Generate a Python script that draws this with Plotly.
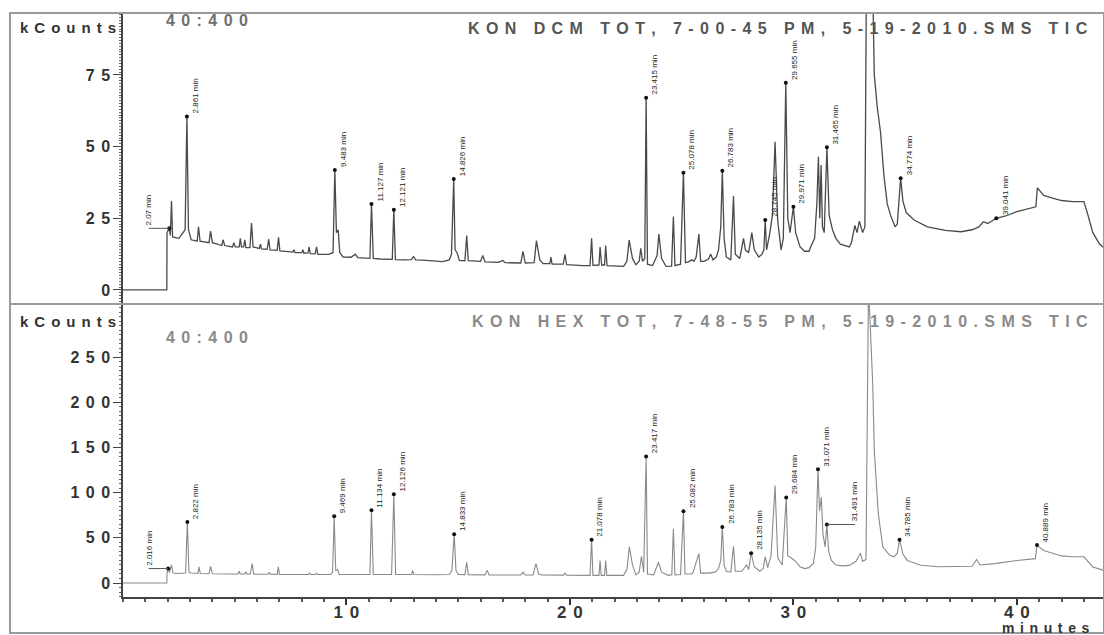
import plotly.graph_objects as go

# ---------------- DATA ----------------
# Top panel: KON DCM TOT (time in minutes, intensity in kCounts)
dcm_time = [
    0.0, 1.96, 1.97, 2.07, 2.12, 2.17, 2.22, 2.5, 2.78, 2.86,
    2.93, 3.05, 3.32, 3.38, 3.45, 3.85, 3.92, 4.0, 4.42, 4.48,
    4.55, 4.9, 4.96, 5.02, 5.2, 5.25, 5.3, 5.4, 5.45, 5.5,
    5.68, 5.75, 5.82, 6.1, 6.15, 6.2, 6.45, 6.52, 6.58, 6.9,
    6.96, 7.02, 7.4, 7.6, 7.65, 7.7, 8.0, 8.05, 8.1, 8.28,
    8.33, 8.38, 8.6, 8.66, 8.72, 9.0, 9.2, 9.4, 9.48, 9.55,
    9.63, 9.7, 9.85, 10.2, 10.4, 10.5, 10.8, 11.05, 11.12, 11.2,
    11.5, 11.9, 12.05, 12.12, 12.19, 12.6, 12.9, 13.0, 13.1, 13.4,
    13.9, 14.3, 14.6, 14.7, 14.8, 14.86, 14.95, 15.05, 15.3, 15.38,
    15.45, 16.0, 16.1, 16.2, 16.8, 17.0, 17.1, 17.8, 17.9, 18.0,
    18.4, 18.5, 18.65, 18.8, 19.1, 19.15, 19.2, 19.7, 19.78, 19.85,
    20.6, 20.9, 20.97, 21.03, 21.3, 21.35, 21.42, 21.55, 21.6, 21.66,
    22.4, 22.55, 22.65, 22.8, 22.95, 23.1, 23.17, 23.25, 23.35, 23.41,
    23.47, 23.7, 23.9, 23.98, 24.1, 24.3, 24.55, 24.63, 24.7, 24.95,
    25.08, 25.17, 25.3, 25.45, 25.55, 25.65, 25.77, 25.85, 26.0, 26.2,
    26.3, 26.4, 26.55, 26.65, 26.75, 26.82, 26.9, 27.0, 27.2, 27.32,
    27.4, 27.6, 27.77, 27.85, 28.0, 28.14, 28.25, 28.45, 28.6, 28.68,
    28.74, 28.8, 28.95, 29.06, 29.18, 29.3, 29.45, 29.55, 29.66, 29.75,
    29.85, 30.0, 30.1, 30.3, 30.5, 30.7, 30.8, 30.95, 31.05, 31.12,
    31.18, 31.24, 31.3, 31.38, 31.5, 31.6, 31.75, 31.9, 32.1, 32.3,
    32.5, 32.6, 32.75, 32.85, 32.95, 33.1, 33.2, 33.34, 33.52, 33.62,
    33.75, 33.9, 34.05, 34.2, 34.35, 34.55, 34.65, 34.72, 34.8, 34.9,
    35.05, 35.4, 36.0, 36.8, 37.5, 38.0, 38.3, 38.5, 38.7, 39.08,
    39.5, 40.0, 40.5, 40.85, 40.92, 41.2, 41.6, 42.0, 42.5, 43.0,
    43.15, 43.4, 43.7, 44.0,
]
dcm_kcounts = [
    0, 0, 20, 21.5, 19, 31, 18.5, 18, 21, 60.5,
    21, 17.5, 17, 22, 17, 16.5, 20.5, 16.5, 15.5, 17.5,
    15.5, 15, 16.5, 15, 15, 18, 15, 15, 17.5, 14.8,
    14.8, 23.3, 15, 14.5, 16, 14.3, 14.2, 17.7, 14, 13.8,
    18.4, 13.6, 13.4, 13.2, 14, 13, 13, 14, 12.8, 12.9,
    15, 12.7, 12.6, 15, 12.4, 12.3, 12.4, 13, 41.8, 20,
    21, 13, 11.5, 11.4, 12.5, 11.3, 11, 11, 30, 11,
    10.8, 10.7, 10.7, 28, 10.6, 10.5, 10.6, 11.6, 10.5, 10.4,
    10, 9.9, 10.5, 12.5, 38.7, 14, 13, 10.3, 10.2, 19,
    10.2, 10, 12, 9.8, 9.6, 10.3, 9.5, 9.4, 13.5, 9.4,
    9.5, 17.2, 10.5, 9.2, 9.2, 11.5, 9, 9, 12.4, 8.8,
    8.5, 8.5, 18, 8.6, 8.7, 15, 8.7, 8.7, 15.5, 8.5,
    8.2, 10, 17.4, 11, 8.8, 10, 14.5, 10, 11, 67,
    9, 8.5, 12, 19.5, 11, 8.2, 8.3, 25.6, 8.5, 9,
    40.9, 9.5, 9.8, 10.5, 10, 11.5, 19.5, 10, 10, 10.8,
    12.5, 10.5, 11.5, 14, 22, 41.6, 18, 11.5, 10.5, 32.8,
    12.5, 11, 18, 14, 13, 20, 14, 11.5, 12.5, 14,
    24.4, 14, 20, 26, 51.7, 24, 14, 18, 72.3, 25,
    20, 29, 20, 15, 13.5, 13.5, 15.5, 18, 30, 46.5,
    25, 43.6, 22, 20, 49.8, 26, 21, 18, 16, 15.5,
    15, 16.5, 22.5, 20, 24, 20, 22, 200, 110, 75,
    64, 55, 40, 30, 26, 22, 23, 32, 39, 31,
    27, 24.4, 22, 20.8, 20.3, 21, 22, 23.8, 23.2, 25,
    25.8, 27.3, 28.2, 29, 35.6, 33, 32, 31.2, 30.8, 30.8,
    27, 20, 16, 14,
]

# Bottom panel: KON HEX TOT
hex_time = [
    0.0, 1.96, 1.97, 2.02, 2.08, 2.17, 2.24, 2.5, 2.8, 2.88,
    2.95, 3.05, 3.35, 3.4, 3.46, 3.85, 3.92, 4.0, 4.8, 5.15,
    5.2, 5.25, 5.45, 5.5, 5.55, 5.7, 5.78, 5.85, 6.5, 6.55,
    6.6, 6.9, 6.95, 7.0, 7.6, 8.3, 8.35, 8.4, 8.6, 8.66,
    8.72, 9.3, 9.38, 9.45, 9.52, 9.6, 9.68, 10.5, 11.05, 11.12,
    11.2, 12.02, 12.12, 12.2, 12.6, 12.92, 12.96, 13.02, 14.0, 14.6,
    14.72, 14.82, 14.9, 15.0, 15.3, 15.38, 15.45, 16.2, 16.3, 16.38,
    17.8, 17.9, 18.0, 18.35, 18.48, 18.6, 18.75, 19.7, 19.78, 19.85,
    20.9, 20.97, 21.03, 21.3, 21.35, 21.4, 21.55, 21.6, 21.65, 22.4,
    22.55, 22.66, 22.8, 22.95, 23.1, 23.2, 23.3, 23.41, 23.47, 23.75,
    23.96, 24.1, 24.4, 24.56, 24.63, 24.7, 24.95, 25.08, 25.15, 25.4,
    25.5, 25.77, 25.85, 26.2, 26.5, 26.65, 26.75, 26.82, 26.9, 27.0,
    27.2, 27.32, 27.4, 27.7, 27.9, 28.0, 28.11, 28.25, 28.5, 28.65,
    28.74, 28.85, 29.0, 29.18, 29.3, 29.5, 29.68, 29.75, 29.9, 30.1,
    30.3, 30.5, 30.7, 30.9, 31.0, 31.1, 31.17, 31.25, 31.32, 31.42,
    31.5, 31.58, 31.7, 31.9, 32.2, 32.5, 32.8, 33.0, 33.1, 33.25,
    33.36, 33.55, 33.62, 33.8, 34.0, 34.3, 34.5, 34.65, 34.75, 34.9,
    35.1, 35.7, 36.5, 37.5, 38.0, 38.2, 38.35, 39.0, 40.0, 40.83,
    40.9, 41.2, 41.6, 42.0, 42.5, 43.0, 43.4, 43.9,
]
hex_kcounts = [
    0, 0, 11, 16, 11.5, 20, 11, 10.5, 11, 67.7,
    12, 11, 10.5, 17.8, 10.5, 10.3, 18.5, 10.2, 10, 10,
    13, 10, 10, 12.5, 10, 10, 21.5, 9.8, 9.7, 12,
    9.7, 9.6, 17.8, 9.6, 9.5, 9.6, 11, 9.5, 9.5, 10.5,
    9.5, 9.5, 12, 74, 14, 15, 9.5, 9.5, 9.5, 80.7,
    9.4, 9.5, 98.4, 9.5, 9.4, 9.4, 14, 9.4, 9.2, 9.5,
    14, 54, 14, 9.5, 9.3, 23, 9.3, 9, 14, 9,
    8.8, 12, 8.8, 9, 21.5, 10, 8.8, 8.7, 11, 8.6,
    8.5, 48, 8.5, 8.5, 25, 8.5, 8.5, 25, 8.5, 8.5,
    15, 40, 20, 9, 12, 29.6, 12, 140, 10, 9,
    23, 12, 8.5, 9, 60, 9, 9.5, 79.6, 10, 10,
    11, 32.6, 11, 11, 12, 16, 25, 62, 20, 13,
    12, 40.7, 13, 13, 20, 15, 33, 18, 13, 16,
    29, 17, 30, 108, 28, 20, 94.8, 30, 28, 24,
    18, 16, 17, 22, 40, 126, 80, 95, 55, 40,
    64.8, 35, 25, 20, 19, 19.5, 24, 33, 24, 26,
    330, 221, 147, 77, 40, 31, 29, 33, 48, 32,
    25, 19.6, 18, 17.8, 18.5, 26, 20, 21.5, 25, 27,
    42, 36, 32.6, 30, 29, 29, 17.8, 14,
]

# Peak labels (apex retention time, apex height, text, where the text sits)
dcm_label_rt = [2.07, 2.86, 9.48, 11.12, 12.12, 14.8, 23.41, 25.08, 26.82,
                28.74, 29.66, 30.0, 31.5, 34.8, 39.08]
dcm_label_kc = [21.5, 60.5, 41.8, 30, 28, 38.7, 67, 40.9, 41.6,
                24.4, 72.3, 29, 49.8, 39, 25]
dcm_label_text = ["2.07 min", "2.861 min", "9.483 min", "11.127 min", "12.121 min",
                  "14.826 min", "23.415 min", "25.078 min", "26.783 min", "28.745 min",
                  "29.655 min", "29.971 min", "31.465 min", "34.774 min", "39.041 min"]
dcm_label_text_rt = [1.15, None, None, None, None, None, None, None, None,
                     None, None, None, None, None, None]

hex_label_rt = [2.02, 2.88, 9.45, 11.12, 12.12, 14.82, 20.97, 23.41, 25.08,
                26.82, 28.11, 29.68, 31.1, 31.5, 34.75, 40.9]
hex_label_kc = [16, 67.7, 74, 80.7, 98.4, 54, 48, 140, 79.6,
                62, 33, 94.8, 126, 64.8, 48, 42]
hex_label_text = ["2.016 min", "2.822 min", "9.469 min", "11.134 min", "12.126 min",
                  "14.833 min", "21.078 min", "23.417 min", "25.082 min", "26.783 min",
                  "28.135 min", "29.684 min", "31.071 min", "31.491 min", "34.785 min",
                  "40.889 min"]
hex_label_text_rt = [1.15, None, None, None, None, None, None, None, None,
                     None, None, None, None, 32.75, None, None]

dcm_ticks = [0, 25, 50, 75]
hex_ticks = [0, 50, 100, 150, 200, 250]
time_ticks = [10, 20, 30, 40]

dcm_title = "KON DCM TOT, 7-00-45 PM, 5-19-2010.SMS TIC"
hex_title = "KON HEX TOT, 7-48-55 PM, 5-19-2010.SMS TIC"
mass_range = "40:400"
y_unit = "kCounts"
x_unit = "minutes"

assert len(dcm_time) == len(dcm_kcounts)
assert len(hex_time) == len(hex_kcounts)

# ---------------- FIGURE ----------------
SEP = "\u2009\u2009"


def spaced(s, sep=SEP):
    return sep.join(list(s))


FONT = "Liberation Sans, Arial, sans-serif"
SPLIT = 0.5017
FRAME_X = -0.1152
FRAME_Y = -0.0616

fig = go.Figure()

# top panel
fig.add_trace(go.Scatter(x=dcm_time, y=dcm_kcounts, mode="lines",
                         line=dict(color="#4a4a4a", width=1.3),
                         xaxis="x2", yaxis="y2", hoverinfo="skip", showlegend=False))
# bottom panel
fig.add_trace(go.Scatter(x=hex_time, y=hex_kcounts, mode="lines",
                         line=dict(color="#8a8a8a", width=1.1),
                         xaxis="x", yaxis="y", hoverinfo="skip", showlegend=False))

annotations = []


def add_labels(rts, kcs, texts, text_rts, xa, ya):
    fig.add_trace(go.Scatter(x=rts, y=kcs, mode="markers",
                             marker=dict(color="#111111", size=4),
                             xaxis=xa, yaxis=ya, hoverinfo="skip", showlegend=False))
    xref = "x" if xa == "x" else "x2"
    yref = "y" if ya == "y" else "y2"
    for rt, kc, txt, trt in zip(rts, kcs, texts, text_rts):
        if trt is None:
            annotations.append(dict(x=rt, y=kc, xref=xref, yref=yref, text=txt,
                                    textangle=-90, showarrow=False,
                                    xanchor="left", yanchor="bottom", xshift=2, yshift=1,
                                    font=dict(family=FONT, size=8, color="#222222")))
        else:
            fig.add_trace(go.Scatter(x=[trt, rt], y=[kc, kc], mode="lines",
                                     line=dict(color="#555555", width=1),
                                     xaxis=xa, yaxis=ya, hoverinfo="skip", showlegend=False))
            annotations.append(dict(x=trt, y=kc, xref=xref, yref=yref, text=txt,
                                    textangle=-90, showarrow=False,
                                    xanchor="center", yanchor="bottom", yshift=1,
                                    font=dict(family=FONT, size=8, color="#222222")))


add_labels(dcm_label_rt, dcm_label_kc, dcm_label_text, dcm_label_text_rt, "x2", "y2")
add_labels(hex_label_rt, hex_label_kc, hex_label_text, hex_label_text_rt, "x", "y")

bold_dark = dict(family=FONT, size=15, color="#333333", weight="bold")

# panel texts
annotations += [
    dict(x=-0.056, y=0.976, xref="paper", yref="paper", text=spaced(y_unit),
         showarrow=False, font=bold_dark, xanchor="center", yanchor="middle"),
    dict(x=-0.056, y=0.4726, xref="paper", yref="paper", text=spaced(y_unit),
         showarrow=False, font=bold_dark, xanchor="center", yanchor="middle"),
    dict(x=0.0856, y=0.988, xref="paper", yref="paper", text=spaced(mass_range),
         showarrow=False, font=dict(family=FONT, size=16, color="#707070", weight="bold"),
         xanchor="center", yanchor="middle"),
    dict(x=0.0856, y=0.4452, xref="paper", yref="paper", text=spaced(mass_range),
         showarrow=False, font=dict(family=FONT, size=16, color="#8a8a8a", weight="bold"),
         xanchor="center", yanchor="middle"),
    dict(x=0.986, y=0.974, xref="paper", yref="paper", text=spaced(dcm_title),
         showarrow=False, font=dict(family=FONT, size=16, color="#555555", weight="bold"),
         xanchor="right", yanchor="middle"),
    dict(x=0.986, y=0.4709, xref="paper", yref="paper", text=spaced(hex_title),
         showarrow=False, font=dict(family=FONT, size=16, color="#8a8a8a", weight="bold"),
         xanchor="right", yanchor="middle"),
    dict(x=0.941, y=-0.0535, xref="paper", yref="paper", text=spaced(x_unit),
         showarrow=False, font=dict(family=FONT, size=14, color="#333333", weight="bold"),
         xanchor="center", yanchor="middle"),
]

shapes = [
    dict(type="rect", xref="paper", yref="paper", x0=FRAME_X, x1=1.0, y0=FRAME_Y, y1=1.0,
         line=dict(color="#9a9a9a", width=2), layer="above"),
    dict(type="line", xref="paper", yref="paper", x0=FRAME_X, x1=1.0, y0=SPLIT, y1=SPLIT,
         line=dict(color="#9a9a9a", width=2), layer="above"),
]

axis_common = dict(showgrid=False, zeroline=False)

fig.update_layout(
    width=1104, height=635,
    margin=dict(l=123, r=0, t=13, b=38),
    paper_bgcolor="white", plot_bgcolor="white",
    showlegend=False,
    annotations=annotations,
    shapes=shapes,
    xaxis=dict(domain=[0, 1], range=[0, 43.9], anchor="y",
               tickvals=time_ticks, ticktext=[spaced(str(t)) for t in time_ticks],
               ticks="outside", ticklen=6, tickwidth=1.5, tickcolor="#333333",
               ticklabelstandoff=-7,
               showline=True, linecolor="#444444", linewidth=1.5,
               minor=dict(dtick=1, ticks="outside", ticklen=3, tickcolor="#555555"),
               tickfont=dict(family=FONT, size=17, color="#333333", weight="bold"),
               **axis_common),
    xaxis2=dict(domain=[0, 1], range=[0, 43.9], anchor="y2", matches="x",
                showticklabels=False, ticks="", showline=False, **axis_common),
    yaxis=dict(domain=[0, SPLIT], range=[-15.5, 309], anchor="x",
               tickvals=hex_ticks, ticktext=[spaced(str(t)) for t in hex_ticks],
               ticks="outside", ticklen=8, tickwidth=1, tickcolor="#444444",
               showline=True, linecolor="#444444", linewidth=1.5,
               minor=dict(dtick=5, ticks="outside", ticklen=2, tickcolor="#666666"),
               tickfont=dict(family=FONT, size=16, color="#333333", weight="bold"),
               **axis_common),
    yaxis2=dict(domain=[SPLIT, 1], range=[-4.9, 96.6], anchor="x2",
                tickvals=dcm_ticks, ticktext=[spaced(str(t)) for t in dcm_ticks],
                ticks="outside", ticklen=8, tickwidth=1, tickcolor="#444444",
                showline=True, linecolor="#444444", linewidth=1.5,
                minor=dict(dtick=1, ticks="outside", ticklen=2, tickcolor="#666666"),
                tickfont=dict(family=FONT, size=16, color="#333333", weight="bold"),
                **axis_common),
)

# remove the browser's default 8px body margin so the figure sits at the page origin
fig.write_html("out.html", config={"displayModeBar": False},
               post_script="document.body.style.margin='0';")
